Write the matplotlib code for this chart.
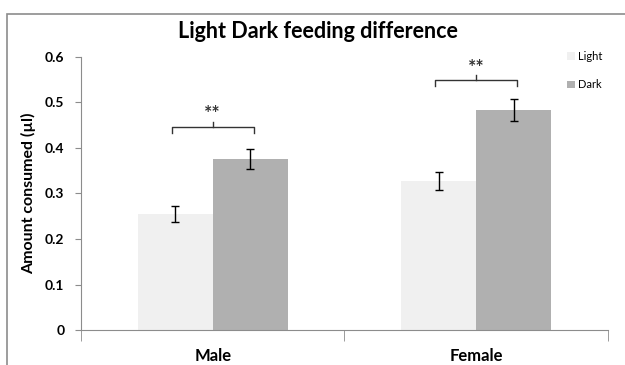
import matplotlib.pyplot as plt
import numpy as np
from matplotlib.patches import Rectangle

plt.rcParams['font.family'] = ['Lato', 'DejaVu Sans']

groups = ['Male', 'Female']
light = [0.255, 0.328]
dark = [0.375, 0.484]
light_err = [0.017, 0.020]
dark_err = [0.022, 0.024]
sig_level = [0.446, 0.549]
sig_text = ['**', '**']
yticks = [0, 0.1, 0.2, 0.3, 0.4, 0.5, 0.6]

fig = plt.figure(figsize=(6.25, 3.65), dpi=100)
# chart area frame
fig.patches.append(Rectangle((7/625, -0.1), 1.2, 1 - 14/365 + 0.1, transform=fig.transFigure,
                             fill=False, edgecolor='#8c8c8c', linewidth=1.2))
ax = fig.add_axes([81/625, 1 - 330/365, 527/625, 273/365])

x = np.arange(len(groups))
w = 0.285
ax.bar(x - w/2, light, w, color='#f0f0f0', label='Light')
ax.bar(x + w/2, dark, w, color='#b0b0b0', label='Dark')
ax.errorbar(x - w/2, light, yerr=light_err, fmt='none', ecolor='black', elinewidth=1, capsize=3, capthick=1)
ax.errorbar(x + w/2, dark, yerr=dark_err, fmt='none', ecolor='black', elinewidth=1, capsize=3, capthick=1)

# significance brackets
for xi, yb, txt in zip(x, sig_level, sig_text):
    x0, x1 = xi - 0.155, xi + 0.155
    ax.plot([x0, x0, x1, x1], [yb - 0.012, yb, yb, yb - 0.012], color='#333333', lw=1)
    ax.plot([xi, xi], [yb, yb + 0.012], color='#333333', lw=1)
    ax.text(xi, yb + 0.029, txt, ha='center', va='center', fontsize=14, fontweight='bold', color='#333333')

ax.set_xlim(-0.5, 1.5)
ax.set_ylim(0, 0.6)
ax.set_yticks(yticks)
ax.set_yticklabels(['0' if v == 0 else f'{v:.1f}' for v in yticks], fontsize=10, fontweight='bold')
ax.set_xticks(x)
ax.set_xticklabels(groups, fontsize=12, fontweight='bold')
ax.set_xticks([-0.5, 0.5, 1.5], minor=True)
ax.tick_params(axis='x', which='major', length=0, pad=13)
ax.tick_params(axis='x', which='minor', length=8, color='#8c8c8c')
ax.tick_params(axis='y', length=4, color='#8c8c8c', pad=8)
for s in ['top', 'right']:
    ax.spines[s].set_visible(False)
for s in ['left', 'bottom']:
    ax.spines[s].set_color('#8c8c8c')

ax.set_ylabel('Amount consumed (µl)', fontsize=11.5, fontweight='bold', labelpad=6)
fig.text(318/625, 1 - 32/365, 'Light Dark feeding difference', ha='center', va='center',
         fontsize=15.5, fontweight='bold')

ax.legend(loc='upper left', bbox_to_anchor=(0.903, 1.06), frameon=False, fontsize=8,
          handlelength=0.7, handleheight=0.7, handletextpad=0.3, labelspacing=1.6)

fig.savefig('out.png', dpi=100)
